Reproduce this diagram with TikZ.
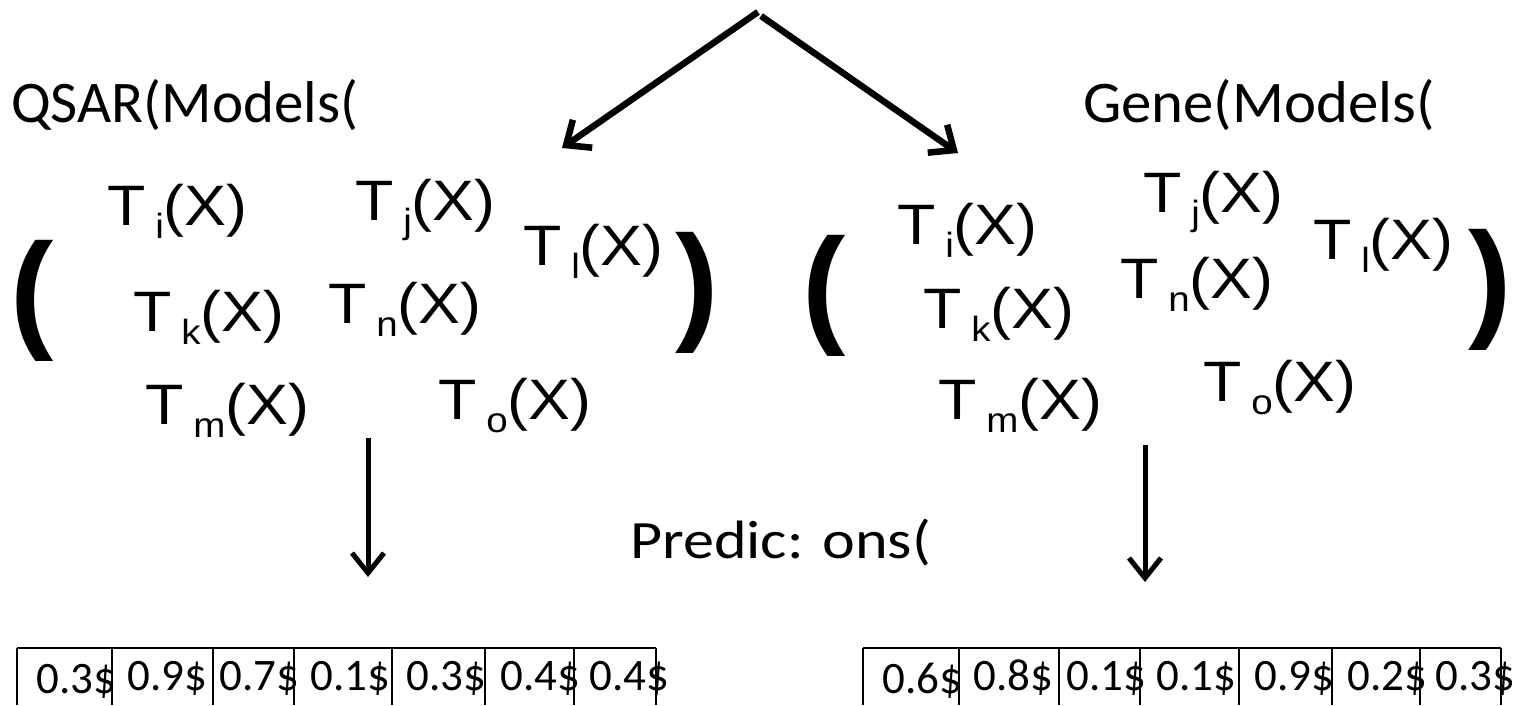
\documentclass[tikz,border=0pt]{standalone}
\usepackage{fontspec}
\setmainfont{Carlito}
\newfontfamily\arialf{Liberation Sans}
\usetikzlibrary{arrows.meta}
\newcommand{\Tfun}[1]{\scalebox{1.1}[1]{T\raisebox{-13pt}{\fontsize{35pt}{35pt}\selectfont\hspace{9pt}#1}(X)}}
\begin{document}
\begin{tikzpicture}[x=1pt,y=-1pt,
  tfun/.style={anchor=base west, inner sep=0pt, font=\arialf\fontsize{57pt}{57pt}\selectfont},
  bigparen/.style={anchor=base west, inner sep=0pt, font=\arialf\bfseries\fontsize{130pt}{130pt}\selectfont},
  header/.style={anchor=base west, inner sep=0pt, font=\fontsize{59pt}{59pt}\selectfont},
  cellnum/.style={anchor=base west, inner sep=0pt, font=\fontsize{45pt}{45pt}\selectfont},
  thickarrow/.style={line width=6.5pt, -{Straight Barb[length=20pt,width=34pt]}},
  downarrow/.style={line width=5pt, -{Straight Barb[length=20pt,width=32pt]}},
  cellline/.style={line width=2pt}]
\useasboundingbox (0,0) rectangle (1514,705);

% top arrows
\coordinate (apexL) at (758,12);
\coordinate (apexR) at (761,16);
\coordinate (tipL) at (562,148);
\coordinate (tipR) at (958,153);
\draw[thickarrow] (apexL) -- (tipL);
\draw[thickarrow] (apexR) -- (tipR);

% headers
\node[header] (hq) at (11,122) {QSAR(Models(};
\node[header] (hg) at (1083,122) {\scalebox{1.03}[1]{Gene(Models(}};

% left group
\node[bigparen] (lpL) at (10,334) {(};
\node[bigparen] (rpL) at (675,326) {)};
\node[tfun] (LTi) at (107,225) {\Tfun{i}};
\node[tfun] (LTj) at (355,220) {\Tfun{j}};
\node[tfun] (LTl) at (523,265) {\Tfun{l}};
\node[tfun] (LTk) at (133,331) {\Tfun{k}};
\node[tfun] (LTn) at (328,323) {\Tfun{n}};
\node[tfun] (LTm) at (145,424) {\Tfun{m}};
\node[tfun] (LTo) at (438,419) {\Tfun{o}};

% right group
\node[bigparen] (lpR) at (802,329) {(};
\node[bigparen] (rpR) at (1468,323) {)};
\node[tfun] (RTi) at (897,244) {\Tfun{i}};
\node[tfun] (RTj) at (1143,212) {\Tfun{j}};
\node[tfun] (RTl) at (1313,259) {\Tfun{l}};
\node[tfun] (RTk) at (923,328) {\Tfun{k}};
\node[tfun] (RTn) at (1120,298) {\Tfun{n}};
\node[tfun] (RTm) at (938,419) {\Tfun{m}};
\node[tfun] (RTo) at (1203,401) {\Tfun{o}};

% down arrows
\coordinate (dLs) at (368,438);
\coordinate (dLe) at (368,577);
\coordinate (dRs) at (1145,445);
\coordinate (dRe) at (1145,582);
\draw[downarrow] (dLs) -- (dLe);
\draw[downarrow] (dRs) -- (dRe);

% predictions label
\node[anchor=base west, inner sep=0pt, font=\fontsize{54pt}{54pt}\selectfont] (pred) at (630,558) {\scalebox{1.15}[1]{Predic: ons(}};

% left table
\draw[cellline] (17,648) -- (656,648);
\foreach \x in {17,112,213,294,392,485,574,656} \draw[cellline] (\x,648) -- (\x,705);
\node[cellnum] (lc1) at (36,693) {0.3\$};
\node[cellnum] (lc2) at (127,690) {0.9\$};
\node[cellnum] (lc3) at (219,690) {0.7\$};
\node[cellnum] (lc4) at (310,690) {0.1\$};
\node[cellnum] (lc5) at (406,690) {0.3\$};
\node[cellnum] (lc6) at (500,690) {0.4\$};
\node[cellnum] (lc7) at (589,690) {0.4\$};

% right table
\draw[cellline] (863,648) -- (1501,648);
\foreach \x in {863,959,1059,1140,1239,1332,1420,1501} \draw[cellline] (\x,648) -- (\x,705);
\node[cellnum] (rc1) at (882,693) {0.6\$};
\node[cellnum] (rc2) at (973,690) {0.8\$};
\node[cellnum] (rc3) at (1066,690) {0.1\$};
\node[cellnum] (rc4) at (1156,690) {0.1\$};
\node[cellnum] (rc5) at (1254,690) {0.9\$};
\node[cellnum] (rc6) at (1347,690) {0.2\$};
\node[cellnum] (rc7) at (1435,690) {0.3\$};
\end{tikzpicture}
\end{document}
